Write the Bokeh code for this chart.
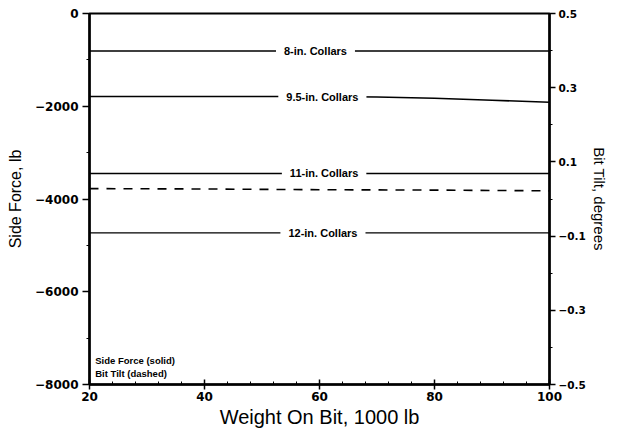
from bokeh.plotting import figure
from bokeh.models import Range1d, LinearAxis, FixedTicker, ColumnDataSource
from bokeh.core.properties import value
from bokeh.embed import file_html
from bokeh.resources import INLINE

# ---- data ----
wob = [20, 40, 60, 80, 100]
wob_95 = [20, 40, 60, 70, 80, 90, 100]
side_8 = [-810, -810, -810, -810, -810]
side_95 = [-1790, -1790, -1790, -1800, -1830, -1870, -1915]
side_11 = [-3450, -3450, -3450, -3450, -3450]
side_12 = [-4730, -4730, -4730, -4730, -4730]
tilt = [0.028, 0.027, 0.025, 0.024, 0.022]

label_text = ["8-in. Collars", "9.5-in. Collars", "11-in. Collars", "12-in. Collars"]
label_x = [59.3, 60.5, 60.8, 60.6]
label_y = [-810, -1790, -3450, -4730]

legend_text = ["Side Force (solid)", "Bit Tilt (dashed)"]
legend_x = [21.0, 21.0]
legend_y = [-7480, -7760]

left_ticks = [0, -2000, -4000, -6000, -8000]
right_ticks = [-0.5, -0.3, -0.1, 0.1, 0.3, 0.5]
right_minor = [-0.4, -0.2, 0.0, 0.2, 0.4]
right_labels = ["\u22120.5", "\u22120.3", "\u22120.1", "0.1", "0.3", "0.5"]
x_ticks = [20, 40, 60, 80, 100]
x_minor = [24, 28, 32, 36, 44, 48, 52, 56, 64, 68, 72, 76, 84, 88, 92, 96]

p = figure(width=610, height=431, output_backend="svg", toolbar_location=None,
           x_range=Range1d(20, 100), y_range=Range1d(-8000, 0),
           min_border_left=89, min_border_right=61, min_border_top=13, min_border_bottom=47)
p.extra_y_ranges = {"tilt": Range1d(-0.5, 0.5)}
p.grid.visible = False
p.outline_line_color = "black"
p.outline_line_width = 2
p.background_fill_color = "white"
p.border_fill_color = "white"

tick_font = "DejaVu Sans"
lab_font = "Liberation Sans"

def style(ax, tick_size):
    ax.axis_label_text_font = lab_font
    ax.axis_label_text_font_style = "normal"
    ax.axis_label_text_color = "black"
    ax.major_label_text_font = tick_font
    ax.major_label_text_font_style = "bold"
    ax.major_label_text_font_size = tick_size
    ax.major_label_text_color = "black"
    ax.axis_line_width = 2.5
    ax.axis_line_color = "black"
    ax.major_tick_line_width = 1.5
    ax.major_tick_line_color = "black"
    ax.minor_tick_line_color = "black"

# x axis
xa = p.xaxis[0]
style(xa, "12px")
xa.ticker = FixedTicker(ticks=x_ticks, minor_ticks=x_minor)
xa.axis_label = "Weight On Bit, 1000 lb"
xa.axis_label_text_font_size = "20px"
xa.axis_label_standoff = 2
xa.major_label_standoff = 2
xa.major_tick_in = 5
xa.major_tick_out = 5
xa.minor_tick_in = 3
xa.minor_tick_out = 0

# left axis
ya = p.yaxis[0]
style(ya, "12px")
ya.ticker = FixedTicker(ticks=left_ticks, minor_ticks=[-1000, -3000, -5000, -7000])
ya.axis_label = "Side Force, lb"
ya.axis_label_text_font_size = "16px"
ya.axis_label_standoff = 8
ya.major_label_standoff = 4
ya.major_tick_in = 0
ya.major_tick_out = 7
ya.minor_tick_in = 0
ya.minor_tick_out = 3

# right axis
ra = LinearAxis(y_range_name="tilt")
style(ra, "10.5px")
ra.ticker = FixedTicker(ticks=right_ticks, minor_ticks=right_minor)
ra.major_label_overrides = {t: l for t, l in zip(right_ticks, right_labels)}
ra.axis_label = "Bit Tilt, degrees"
ra.axis_label_text_font_size = "15px"
ra.axis_label_standoff = 2
ra.major_label_standoff = 3
ra.major_tick_in = 0
ra.major_tick_out = 6
ra.minor_tick_in = 0
ra.minor_tick_out = 3
p.add_layout(ra, "right")

# side-force curves
p.line(wob, side_8, line_color="black", line_width=1.5)
p.line(wob_95, side_95, line_color="black", line_width=1.5)
p.line(wob, side_11, line_color="black", line_width=1.5)
p.line(wob, side_12, line_color="black", line_width=1.3)

# bit tilt (dashed)
p.line(wob, tilt, y_range_name="tilt", line_color="black", line_width=1.6, line_dash="9 8")

# curve labels with white background to break the lines
lab_src = ColumnDataSource(dict(x=label_x, y=label_y, t=label_text))
p.text(x="x", y="y", text="t", source=lab_src, text_font=value(lab_font),
       text_font_style="bold", text_font_size="11px", text_align="center",
       text_baseline="middle", background_fill_color="white", padding=8,
       text_color="black")

# legend notes
leg_src = ColumnDataSource(dict(x=legend_x, y=legend_y, t=legend_text))
p.text(x="x", y="y", text="t", source=leg_src, text_font=value(lab_font),
       text_font_style="bold", text_font_size="9.5px", text_align="left",
       text_baseline="middle", text_color="black")

open("out.html", "w").write(file_html(p, INLINE))
